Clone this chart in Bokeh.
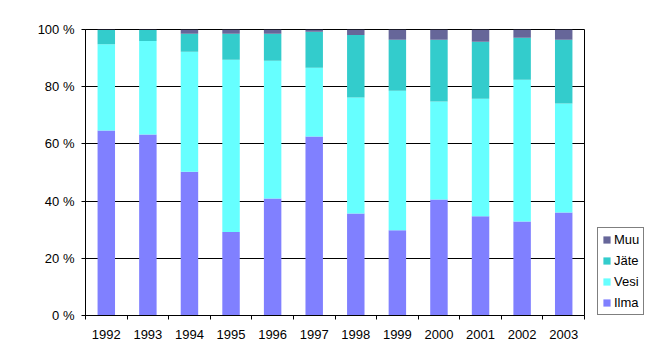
from bokeh.plotting import figure
from bokeh.models import ColumnDataSource, FixedTicker, Range1d, Legend, LegendItem
from bokeh.embed import file_html
from bokeh.resources import INLINE

years = ["1992", "1993", "1994", "1995", "1996", "1997", "1998", "1999", "2000", "2001", "2002", "2003"]
ilma = [64.7, 63.3, 50.3, 29.2, 40.9, 62.6, 35.7, 29.8, 40.6, 34.7, 32.9, 36.0]
vesi = [30.1, 32.7, 41.9, 60.2, 48.2, 24.0, 40.5, 48.8, 34.2, 41.1, 49.5, 38.1]
jate = [5.0, 3.8, 6.3, 9.1, 9.4, 12.6, 21.9, 17.8, 21.6, 19.9, 14.7, 22.3]
muu = [0.2, 0.2, 1.5, 1.5, 1.5, 0.8, 1.9, 3.6, 3.6, 4.3, 2.9, 3.6]
series = ["Ilma", "Vesi", "Jäte", "Muu"]
colors = ["#8080FF", "#66FFFF", "#33CCCC", "#666699"]
y_ticks = [0, 20, 40, 60, 80, 100]
y_labels = ["0 %", "20 %", "40 %", "60 %", "80 %", "100 %"]

xpos = list(range(1, len(years) + 1))
src = ColumnDataSource(dict(x=xpos, Ilma=ilma, Vesi=vesi, **{"Jäte": jate}, Muu=muu))

p = figure(frame_width=499, frame_height=286, output_backend="svg", toolbar_location=None,
           x_range=Range1d(0.5, len(years) + 0.5), y_range=Range1d(0, 100),
           min_border_left=85, min_border_right=0, min_border_top=29, min_border_bottom=39)
p.background_fill_color = "white"
p.border_fill_color = "white"
p.outline_line_color = "black"
p.outline_line_width = 1

rs = p.vbar_stack(series, x="x", width=0.42, source=src, color=colors, line_color=None)

font = "Liberation Sans"
# x axis
p.xaxis.ticker = FixedTicker(ticks=xpos, minor_ticks=[i + 0.5 for i in range(0, len(years) + 1)])
p.xaxis.major_label_overrides = {x: y for x, y in zip(xpos, years)}
p.xaxis.major_tick_out = 0
p.xaxis.major_tick_in = 0
p.xaxis.minor_tick_out = 4
p.xaxis.minor_tick_in = 0
p.xaxis.minor_tick_line_color = "black"
p.xaxis.major_label_standoff = 10
# y axis
p.yaxis.ticker = FixedTicker(ticks=y_ticks, minor_ticks=[])
p.yaxis.major_label_overrides = {t: l for t, l in zip(y_ticks, y_labels)}
p.yaxis.major_tick_out = 4
p.yaxis.major_tick_in = 0
p.yaxis.major_label_standoff = 7
for ax in (p.xaxis, p.yaxis):
    ax.axis_line_color = "black"
    ax.major_tick_line_color = "black"
    ax.major_label_text_font = font
    ax.major_label_text_font_size = "13px"
    ax.major_label_text_color = "black"

p.xgrid.visible = False
p.ygrid.ticker = FixedTicker(ticks=y_ticks)
p.ygrid.grid_line_color = "black"
p.ygrid.grid_line_alpha = 1.0

items = [LegendItem(label=s, renderers=[r]) for s, r in zip(series, rs)][::-1]
leg = Legend(items=items, location=(13, 0))
leg.margin = 0
leg.label_text_font = font
leg.label_text_font_size = "13px"
leg.label_text_color = "black"
leg.glyph_width = 9
leg.glyph_height = 9
leg.label_height = 15
leg.label_standoff = 3
leg.spacing = 6
leg.padding = 4
leg.border_line_color = "black"
leg.border_line_width = 1
leg.background_fill_color = "white"
leg.background_fill_alpha = 1
p.add_layout(leg, "right")

open("out.html", "w").write(file_html(p, INLINE))
